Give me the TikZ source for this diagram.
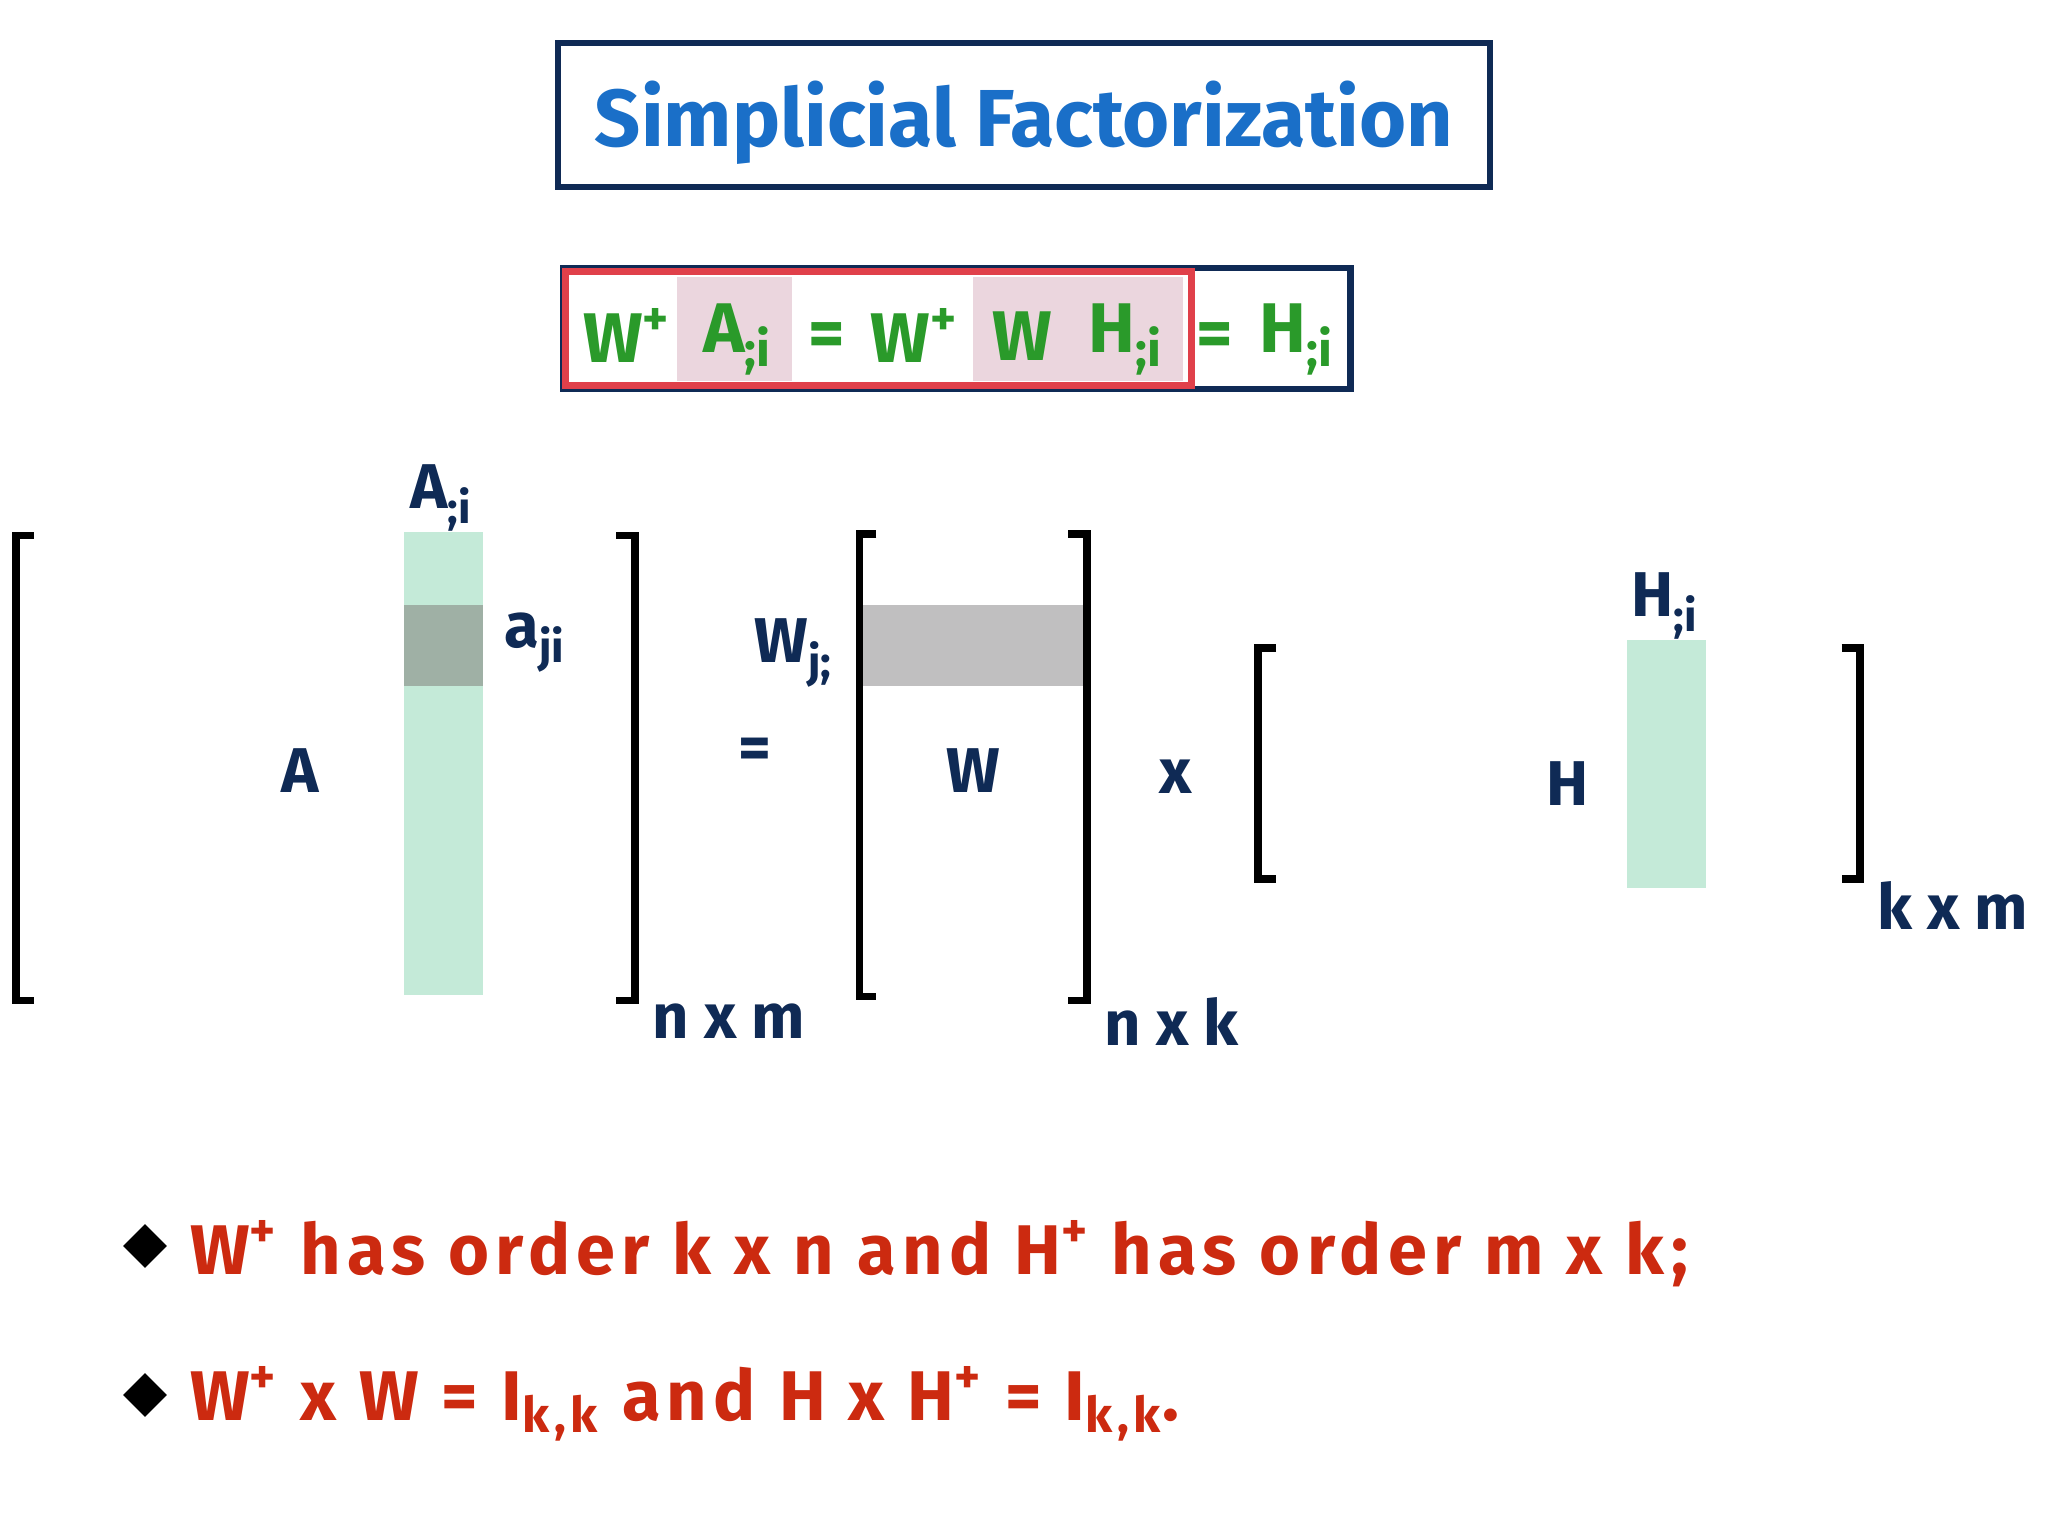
\documentclass[tikz,border=0pt]{standalone}
\usepackage{fontspec}
\setmainfont{Fira Sans}
\usetikzlibrary{shapes.geometric}
\definecolor{tblue}{HTML}{1A6FC8}
\definecolor{tgreen}{HTML}{2A9A2A}
\definecolor{navy}{HTML}{0F2A55}
\definecolor{tred}{HTML}{CC2A10}
\definecolor{mint}{HTML}{C4EAD8}
\definecolor{pinkf}{HTML}{EBD6DE}
\definecolor{grayrow}{HTML}{C0BFC0}
\definecolor{grayrowA}{HTML}{9FB0A5}
\definecolor{boxred}{HTML}{E0404A}
\tikzset{
 lbl/.style={font=\bfseries\fontsize{18}{20}\selectfont, text=navy, inner sep=0},
 eq/.style={font=\bfseries\fontsize{20}{22}\selectfont, text=tgreen, inner sep=0},
 bul/.style={font=\bfseries\fontsize{20}{22}\selectfont\addfontfeature{LetterSpace=9}, text=tred, inner sep=0, anchor=west},
 brk/.style={line width=2.2pt, black},
}
\begin{document}
\begin{tikzpicture}[x=0.01306cm,y=-0.01306cm]
\useasboundingbox (0,0) rectangle (1568,1176);
% title
\draw[navy, line width=1.8pt] (427,33) rectangle (1141,143);
\node[font=\bfseries\fontsize{23}{25}\selectfont, text=tblue, inner sep=0] (title) at (784,94) {Simplicial Factorization};
% formula box
\draw[navy, line width=1.8pt] (431,205) rectangle (1034,298);
\fill[pinkf] (518,212) rectangle (606,292);
\fill[pinkf] (745,212) rectangle (906,292);
\draw[boxred, line width=2pt] (433,208) rectangle (912,295);
\node[eq] (f1) at (480,257) {W\textsuperscript{+}};
\node[eq] (f2) at (565,260) {A\textsubscript{;i}};
\node[eq] (f3) at (633,260) {=};
\node[eq] (f4) at (700,257) {W\textsuperscript{+}};
\node[eq] (f5) at (783,257) {W};
\node[eq] (f6) at (862,260) {H\textsubscript{;i}};
\node[eq] (f7) at (930,260) {=};
\node[eq] (f8) at (993,260) {H\textsubscript{;i}};
% A matrix
\fill[mint] (309,407) rectangle (370,762);
\fill[grayrowA] (309,463) rectangle (370,525);
\draw[brk] (26,410) -- (12,410) -- (12,766) -- (26,766);
\draw[brk] (472,410) -- (486,410) -- (486,766) -- (472,766);
\node[lbl] (Ai) at (338,381) {A\textsubscript{;i}};
\node[lbl] (aji) at (410,492) {a\textsubscript{ji}};
\node[lbl] (A) at (230,590) {A};
\node[lbl] (nm) at (558,782) {n x m};
\node[lbl] (eqs) at (578,577) {=};
% W matrix
\fill[grayrow] (657,463) rectangle (830,525);
\draw[brk] (671,409) -- (658,409) -- (658,763) -- (671,763);
\draw[brk] (818,409) -- (832,409) -- (832,766) -- (818,766);
\node[lbl] (Wj) at (608,500) {W\textsubscript{j;}};
\node[lbl] (W) at (745,590) {W};
\node[lbl] (nk) at (897,782) {n x k};
\node[lbl] (x) at (900,595) {x};
% H matrix
\fill[mint] (1246,490) rectangle (1306,680);
\draw[brk] (977,496) -- (963,496) -- (963,673) -- (977,673);
\draw[brk] (1410,496) -- (1424,496) -- (1424,673) -- (1410,673);
\node[lbl] (Hi) at (1275,464) {H\textsubscript{;i}};
\node[lbl] (H) at (1200,600) {H};
\node[lbl] (km) at (1495,693) {k x m};
% bullets
\node[diamond, fill=black, minimum size=34*0.01306cm, inner sep=0] (d1) at (111,954) {};
\node[diamond, fill=black, minimum size=34*0.01306cm, inner sep=0] (d2) at (111,1068) {};
\node[bul] (b1) at (145,960) {W\textsuperscript{+} has order k x n and H\textsuperscript{+} has order m x k;};
\node[bul] (b2) at (145,1075) {W\textsuperscript{+} x W = I\textsubscript{k,k} and H x H\textsuperscript{+} = I\textsubscript{k,k}.};
\end{tikzpicture}
\end{document}
